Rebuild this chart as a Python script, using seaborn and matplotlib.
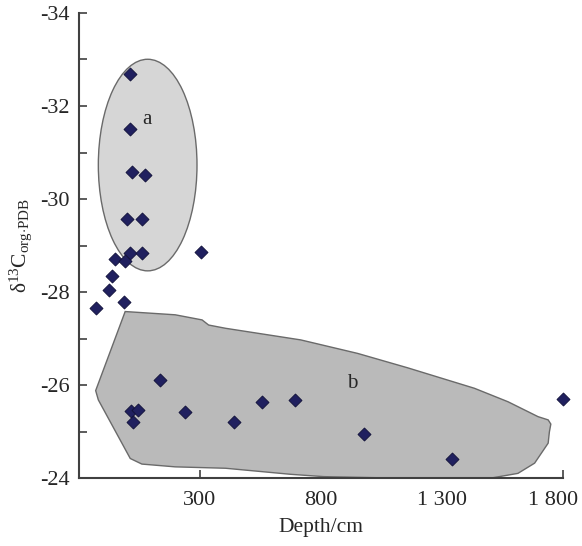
import numpy as np
import pandas as pd
import seaborn as sns
import matplotlib.pyplot as plt
from matplotlib.patches import Ellipse, Polygon
from matplotlib.transforms import ScaledTranslation

# measured points (depth in cm, delta13C)
depth = [10, 12, 19, 74, 0, 62, -49, 9, -9, 60, 306, -64, -74, -15, -131,
         135, 16, 44, 25, 240, 440, 555, 695, 979, 1343, 1800]
d13c = [-32.68, -31.51, -30.57, -30.52, -29.58, -29.58, -28.72, -28.83, -28.67,
        -28.83, -28.87, -28.34, -28.04, -27.79, -27.66, -26.11, -25.44, -25.47,
        -25.21, -25.43, -25.21, -25.64, -25.68, -24.95, -24.40, -25.69]

# group a: ellipse (centre, width, height)
a_center = (84, -30.73)
a_width = 408
a_height = 4.55

# group b: outline of the shaded field
b_x = [-9, 198, 309, 336, 406, 717, 952, 1159, 1297, 1435, 1574, 1698, 1740,
       1751, 1745, 1740, 1684, 1615, 1505, 1408, 1227, 1090, 812, 675, 406,
       198, 60, 12, -120, -131]
b_y = [-27.58, -27.51, -27.40, -27.29, -27.22, -26.97, -26.68, -26.37, -26.15,
       -25.93, -25.64, -25.32, -25.25, -25.16, -24.99, -24.75, -24.32, -24.10,
       -24.0, -24.0, -24.0, -24.0, -24.03, -24.08, -24.21, -24.24, -24.30,
       -24.42, -25.68, -25.88]

xticks = [300, 800, 1300, 1800]
xticklabels = ["300", "800", "1 300", "1 800"]

sns.set_style("ticks")
plt.rcParams['font.family'] = ['Liberation Serif', 'DejaVu Serif']
plt.rcParams['axes.unicode_minus'] = False
plt.rcParams['mathtext.fontset'] = 'custom'
plt.rcParams['mathtext.rm'] = 'Liberation Serif'
plt.rcParams['mathtext.it'] = 'Liberation Serif'

fig = plt.figure(figsize=(5.82, 5.46), dpi=100)
ax = fig.add_axes([0.1357, 0.1245, 0.8311, 0.8517])

ax.add_patch(Polygon(np.column_stack([b_x, b_y]), closed=True,
                     facecolor="#bababa", edgecolor="#6a6a6a", lw=1.0, zorder=1))
ax.add_patch(Ellipse(a_center, a_width, a_height,
                     facecolor="#d6d6d6", edgecolor="#6a6a6a", lw=1.0, zorder=1))

df = pd.DataFrame({"depth": depth, "d13c": d13c})
sns.scatterplot(data=df, x="depth", y="d13c", marker="D", s=44,
                color="#20205f", edgecolor="#101038", linewidth=0.6,
                ax=ax, zorder=3, clip_on=False)

ax.text(80, -31.7, "a", fontsize=15, ha="center", va="center")
ax.text(928, -26.04, "b", fontsize=15, ha="center", va="center")

ax.set_xlim(-200, 1800)
ax.set_ylim(-24, -34)
ax.set_xticks(xticks)
ax.set_xticklabels(xticklabels)
ax.set_yticks(range(-34, -23, 2))
ax.set_yticks(range(-33, -24, 2), minor=True)
ax.tick_params(axis="both", which="both", direction="in", length=6,
               width=1.2, color="#404040", labelsize=16, pad=7)
ax.tick_params(axis="x", pad=9)

# last x label sits a little left so it stays inside the figure
last = ax.get_xticklabels()[-1]
last.set_transform(last.get_transform() + ScaledTranslation(-7 / 72, 0, fig.dpi_scale_trans))

sns.despine(ax=ax)
for side in ["left", "bottom"]:
    ax.spines[side].set_color("#404040")
    ax.spines[side].set_linewidth(1.5)

ax.set_xlabel("Depth/cm", fontsize=15.5, labelpad=6)
ax.set_ylabel(r"$\mathrm{\delta^{13}C_{org{\cdot}PDB}}$", fontsize=15.5, labelpad=4)

fig.savefig("out.png", dpi=100)
